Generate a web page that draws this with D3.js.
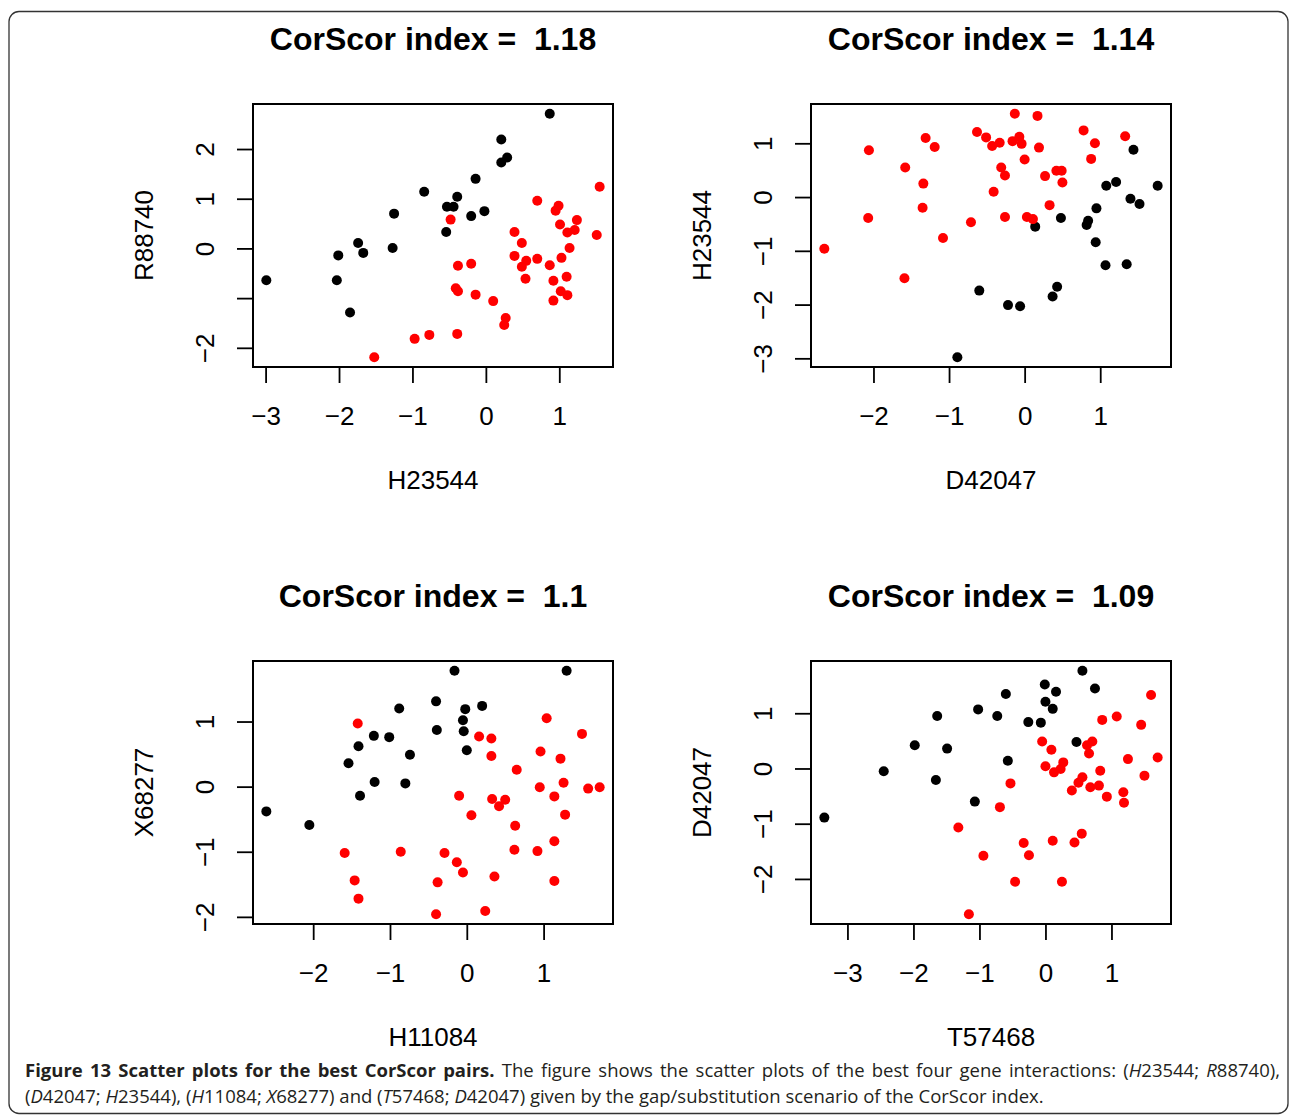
<!DOCTYPE html>
<html>
<head>
<meta charset="utf-8">
<script src="https://cdn.jsdelivr.net/npm/d3@7"></script>
<style>
  body { margin: 0; background: #fff; }
  svg { display: block; }
  .tick-label, .axis-title { font-family: "Liberation Sans", Arial, sans-serif; font-size: 26px; }
  .panel-title { font-family: "Liberation Sans", Arial, sans-serif; font-size: 32px; font-weight: bold; white-space: pre; }
  .caption { font-family: "Open Sans", sans-serif; font-size: 18.5px; fill: #231f20; }
</style>
</head>
<body>
<svg id="chart" width="1290" height="1116"></svg>
<script>
(function(){

// Panel 1: H23544 vs R88740
var p1Black = [[-2.99,-0.64],[-2.03,-0.64],[-2.01,-0.14],[-1.85,-1.29],[-1.74,0.11],[-1.67,-0.09],
  [-1.27,0.01],[-1.25,0.70],[-0.84,1.14],[-0.54,0.33],[-0.53,0.84],[-0.44,0.84],[-0.39,1.04],
  [-0.20,0.65],[-0.14,1.40],[-0.02,0.75],[0.21,1.73],[0.29,1.83],[0.21,2.19],[0.87,2.71]];
var p1Red = [[-1.52,-2.19],[-0.97,-1.82],[-0.77,-1.74],[-0.39,-1.72],[-0.48,0.58],[-0.38,-0.35],
  [-0.20,-0.31],[-0.41,-0.80],[-0.38,-0.86],[-0.14,-0.93],[0.10,-1.06],[0.27,-1.40],[0.25,-1.54],
  [0.39,0.33],[0.49,0.11],[0.39,-0.15],[0.49,-0.37],[0.55,-0.25],[0.54,-0.61],[0.70,0.96],
  [0.70,-0.21],[0.87,-0.34],[0.92,-0.65],[0.92,-1.05],[0.95,0.76],[0.99,0.86],[1.01,0.48],
  [1.02,-0.86],[1.03,-0.19],[1.10,-0.57],[1.11,-0.94],[1.11,0.32],[1.14,0.01],[1.21,0.37],
  [1.24,0.57],[1.51,0.27],[1.55,1.24]];

// Panel 2: D42047 vs H23544
var p2Black = [[-0.89,-2.98],[-0.60,-1.74],[-0.22,-2.01],[-0.06,-2.03],[0.37,-1.85],[0.43,-1.67],
  [0.14,-0.55],[0.48,-0.39],[0.82,-0.52],[0.84,-0.44],[0.95,-0.21],[0.94,-0.84],[1.07,-1.27],
  [1.35,-1.25],[1.08,0.21],[1.21,0.28],[1.40,-0.03],[1.52,-0.13],[1.44,0.88],[1.76,0.21]];
var p2Red = [[-2.65,-0.96],[-2.06,0.87],[-2.07,-0.39],[-1.59,-1.51],[-1.58,0.55],[-1.34,0.25],
  [-1.35,-0.20],[-1.31,1.10],[-1.19,0.93],[-1.08,-0.76],[-0.71,-0.47],[-0.63,1.21],[-0.51,1.11],
  [-0.43,0.95],[-0.33,1.01],[-0.41,0.10],[-0.31,0.55],[-0.26,0.40],[-0.26,-0.37],[-0.16,1.04],
  [-0.13,1.55],[-0.07,1.12],[-0.04,0.99],[0.00,0.70],[0.03,-0.37],[0.11,-0.41],[0.17,1.51],
  [0.19,0.92],[0.27,0.39],[0.33,-0.15],[0.42,0.49],[0.49,0.49],[0.50,0.27],[0.78,1.24],
  [0.88,0.71],[0.93,1.00],[1.33,1.13]];

// Panel 3: H11084 vs X68277
var p3Black = [[-2.61,-0.38],[-2.05,-0.59],[-1.54,0.36],[-1.41,0.62],[-1.39,-0.14],[-1.21,0.78],
  [-1.20,0.07],[-1.01,0.76],[-0.88,1.20],[-0.74,0.49],[-0.80,0.05],[-0.40,1.31],[-0.39,0.87],
  [-0.16,1.78],[-0.05,1.02],[-0.04,0.85],[-0.02,1.19],[0.00,0.56],[0.20,1.24],[1.30,1.78]];
var p3Red = [[-1.59,-1.02],[-1.46,-1.44],[-1.41,-1.72],[-1.42,0.97],[-0.86,-1.00],[-0.40,-1.96],
  [-0.38,-1.47],[-0.29,-1.02],[-0.13,-1.16],[-0.10,-0.14],[-0.05,-1.32],[0.06,-0.44],[0.16,0.77],
  [0.32,0.74],[0.32,0.47],[0.33,-0.19],[0.42,-0.30],[0.50,-0.20],[0.36,-1.38],[0.24,-1.91],
  [0.65,0.26],[0.63,-0.60],[0.62,-0.97],[0.92,-0.99],[0.95,-0.01],[0.96,0.54],[1.04,1.05],
  [1.14,-0.15],[1.14,-0.84],[1.14,-1.45],[1.22,0.43],[1.26,0.06],[1.28,-0.43],[1.50,0.81],
  [1.58,-0.03],[1.73,-0.01]];

// Panel 4: T57468 vs D42047
var p4Black = [[-3.35,-0.89],[-2.45,-0.05],[-1.98,0.42],[-1.64,0.95],[-1.66,-0.21],[-1.49,0.36],
  [-1.07,-0.60],[-1.02,1.07],[-0.73,0.95],[-0.60,1.35],[-0.57,0.14],[-0.26,0.84],[-0.07,0.83],
  [-0.01,1.52],[0.00,1.21],[0.11,1.08],[0.16,1.39],[0.47,0.48],[0.56,1.77],[0.75,1.45]];
var p4Red = [[-1.16,-2.64],[-1.32,-1.07],[-0.94,-1.58],[-0.69,-0.70],[-0.53,-0.27],[-0.46,-2.05],
  [-0.33,-1.35],[-0.25,-1.57],[-0.05,0.49],[0.00,0.04],[0.09,0.34],[0.11,-1.31],[0.13,-0.07],
  [0.23,-0.01],[0.27,0.11],[0.25,-2.05],[0.40,-0.40],[0.44,-1.34],[0.50,-0.26],[0.55,-1.18],
  [0.56,-0.16],[0.63,0.42],[0.66,0.27],[0.68,-0.34],[0.71,0.49],[0.81,-0.31],[0.83,-0.04],
  [0.86,0.88],[0.93,-0.51],[1.08,0.94],[1.18,-0.43],[1.19,-0.62],[1.25,0.17],[1.45,0.79],
  [1.50,-0.13],[1.60,1.33],[1.70,0.20]];

var titles = ["CorScor index =  1.18", "CorScor index =  1.14", "CorScor index =  1.1", "CorScor index =  1.09"];
var xNames = ["H23544", "D42047", "H11084", "T57468"];
var yNames = ["R88740", "H23544", "X68277", "D42047"];
var xTicks = [[-3,-2,-1,0,1], [-2,-1,0,1], [-2,-1,0,1], [-3,-2,-1,0,1]];
var yTicks = [[-2,-1,0,1,2], [-3,-2,-1,0,1], [-2,-1,0,1], [-2,-1,0,1]];
// R drops the overlapping "-1" label in the first panel
var yTickLabels = [["\u22122","","0","1","2"], ["\u22123","\u22122","\u22121","0","1"],
  ["\u22122","\u22121","0","1"], ["\u22122","\u22121","0","1"]];

var blacks = [p1Black, p2Black, p3Black, p4Black];
var reds = [p1Red, p2Red, p3Red, p4Red];

var boxW = 360, boxH = 263, tickLen = 16;
var origins = [[253,104],[811,104],[253,661],[811,661]];

var svg = d3.select("#chart");

svg.append("rect")
  .attr("x", 9).attr("y", 11.5)
  .attr("width", 1279).attr("height", 1102)
  .attr("rx", 10)
  .style("fill", "none")
  .style("stroke", "#333")
  .style("stroke-width", 1.3);

function fmt(v) { return v < 0 ? "\u2212" + Math.abs(v) : String(v); }

// R style range: data extent widened by 4% on each side
function rRange(vals) {
  var e = d3.extent(vals), pad = (e[1] - e[0]) * 0.04;
  return [e[0] - pad, e[1] + pad];
}

function panel(i) {
  var all = blacks[i].concat(reds[i]);
  var x = d3.scaleLinear().domain(rRange(all.map(function(d){ return d[0]; }))).range([0, boxW]);
  var y = d3.scaleLinear().domain(rRange(all.map(function(d){ return d[1]; }))).range([boxH, 0]);

  var g = svg.append("g")
    .attr("transform", "translate(" + origins[i][0] + "," + origins[i][1] + ")");

  var xAxis = d3.axisBottom(x).tickValues(xTicks[i]).tickSize(tickLen).tickPadding(0).tickFormat(fmt);
  var yLab = yTickLabels[i];
  var yAxis = d3.axisLeft(y).tickValues(yTicks[i]).tickSize(tickLen).tickPadding(0)
    .tickFormat(function(d, j){ return yLab[j]; });

  var xas = g.append("g")
    .attr("transform", "translate(0," + boxH + ")")
    .call(xAxis);
  xas.select(".domain").remove();
  xas.selectAll(".tick line").style("stroke", "#000").style("stroke-width", 1.8);
  xas.selectAll(".tick text")
    .attr("class", "tick-label")
    .attr("y", 58).attr("dy", null)
    .style("fill", "#000");

  var yas = g.append("g").call(yAxis);
  yas.select(".domain").remove();
  yas.selectAll(".tick line").style("stroke", "#000").style("stroke-width", 1.8);
  yas.selectAll(".tick text")
    .attr("class", "tick-label")
    .attr("x", null).attr("dy", null)
    .attr("transform", "translate(-39,0) rotate(-90)")
    .style("text-anchor", "middle")
    .style("fill", "#000");
  yas.attr("font-family", null).attr("font-size", null);
  xas.attr("font-family", null).attr("font-size", null);

  g.selectAll("circle.black")
    .data(blacks[i])
    .enter().append("circle")
    .attr("class", "black")
    .attr("cx", function(d){ return x(d[0]); })
    .attr("cy", function(d){ return y(d[1]); })
    .attr("r", 5)
    .style("fill", "#000");

  g.selectAll("circle.red")
    .data(reds[i])
    .enter().append("circle")
    .attr("class", "red")
    .attr("cx", function(d){ return x(d[0]); })
    .attr("cy", function(d){ return y(d[1]); })
    .attr("r", 5)
    .style("fill", "#ff0000");

  g.append("rect")
    .attr("width", boxW).attr("height", boxH)
    .style("fill", "none")
    .style("stroke", "#000")
    .style("stroke-width", 2);

  g.append("text")
    .attr("class", "panel-title")
    .attr("x", boxW / 2).attr("y", -54)
    .style("text-anchor", "middle")
    .text(titles[i]);

  g.append("text")
    .attr("class", "axis-title")
    .attr("x", boxW / 2).attr("y", boxH + 122)
    .style("text-anchor", "middle")
    .text(xNames[i]);

  g.append("text")
    .attr("class", "axis-title")
    .attr("transform", "translate(-100," + (boxH / 2) + ") rotate(-90)")
    .style("text-anchor", "middle")
    .text(yNames[i]);
}

for (var i = 0; i < 4; i++) panel(i);

// Caption, gene names with an italic first letter
function gene(t, name) {
  t.append("tspan").style("font-style", "italic").text(name.charAt(0));
  t.append("tspan").text(name.slice(1));
}

var line1 = svg.append("text").attr("class", "caption").attr("x", 25).attr("y", 1077);
line1.append("tspan").style("font-weight", "bold").text("Figure 13 Scatter plots for the best CorScor pairs.");
line1.append("tspan").text(" The figure shows the scatter plots of the best four gene interactions: (");
gene(line1, "H23544"); line1.append("tspan").text("; ");
gene(line1, "R88740"); line1.append("tspan").text("),");

var line2 = svg.append("text").attr("class", "caption").attr("x", 25).attr("y", 1103);
line2.append("tspan").text("(");
gene(line2, "D42047"); line2.append("tspan").text("; ");
gene(line2, "H23544"); line2.append("tspan").text("), (");
gene(line2, "H11084"); line2.append("tspan").text("; ");
gene(line2, "X68277"); line2.append("tspan").text(") and (");
gene(line2, "T57468"); line2.append("tspan").text("; ");
gene(line2, "D42047"); line2.append("tspan").text(") given by the gap/substitution scenario of the CorScor index.");

// justify the first line
var natural = line1.node().getComputedTextLength();
var spaces = line1.text().split(" ").length - 1;
line1.style("word-spacing", ((1280 - 25 - natural) / spaces) + "px");

})();
</script>
</body>
</html>
